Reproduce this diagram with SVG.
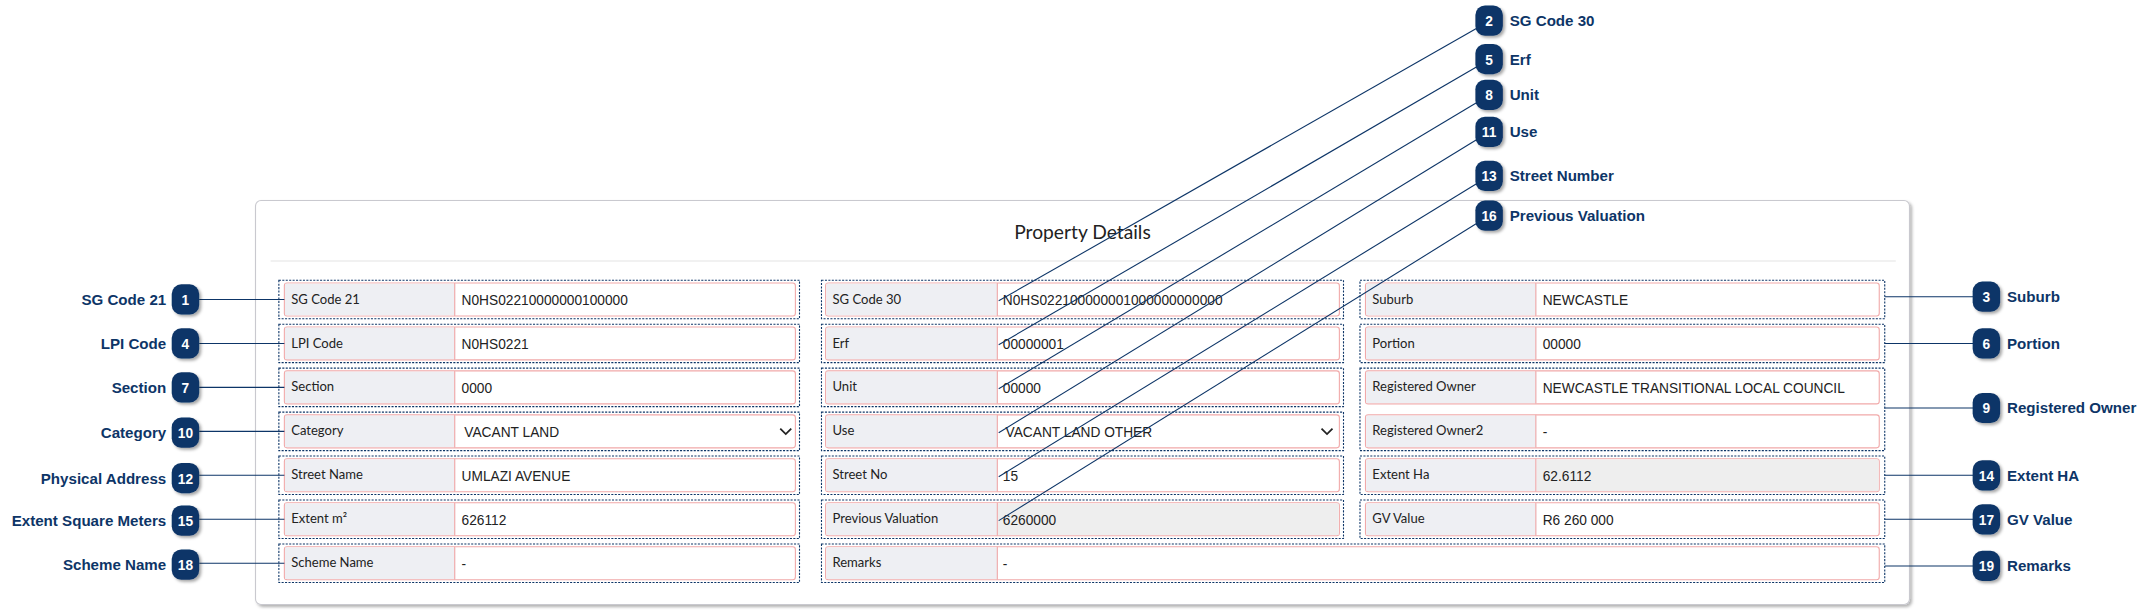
<svg xmlns="http://www.w3.org/2000/svg" width="2154" height="614" viewBox="0 0 2154 614">
<defs>
<style>
.dot{fill:none;stroke:#0d3567;stroke-width:0.8;stroke-dasharray:1.5 1}
.inp{fill:#fff;stroke:#f1a9a9;stroke-width:0.8}
.lab{fill:#eeeff3}
.sep{stroke:#f1a9a9;stroke-width:0.8}
.ro{fill:#eeeeee}
.t{font-family:Lato,"Open Sans",sans-serif;font-size:9.5px;fill:#222}
.v{font-family:"Liberation Sans",Arial,sans-serif;font-size:10px;fill:#222}
.cl{font-family:"Liberation Sans",Arial,sans-serif;font-size:11px;font-weight:bold;fill:#0d3567}
.bn{font-family:"Liberation Sans",Arial,sans-serif;font-size:10px;font-weight:bold;fill:#fff;text-anchor:middle}
.ln{stroke:#0d3567;stroke-width:0.8;fill:none}
</style>
<filter id="sh" x="-20%" y="-20%" width="150%" height="150%"><feDropShadow dx="1.5" dy="1.5" stdDeviation="1" flood-color="#000" flood-opacity="0.35"/></filter>
<filter id="ps" x="-5%" y="-5%" width="110%" height="110%"><feDropShadow dx="1.5" dy="1.5" stdDeviation="1.2" flood-color="#000" flood-opacity="0.3"/></filter>
<g id="badge"><rect x="-10" y="-11" width="20" height="22" rx="7" fill="#0d3567" filter="url(#sh)"/></g>
</defs>
<rect width="2154" height="614" fill="#fff"/>
<g transform="scale(1.37372)">
<g id="panel">
<rect x="186" y="146" width="1204" height="294" rx="4" fill="#fff" stroke="#c9c9cf" stroke-width="0.8" filter="url(#ps)"/>
<text x="788" y="174" font-family="Lato,'Open Sans',sans-serif" font-size="14" fill="#222" text-anchor="middle">Property Details</text>
<line x1="197" y1="190" x2="1380" y2="190" stroke="#ececec" stroke-width="1"/>
</g>
<g id="fields">
<!-- col1 -->
<g id="f-sgcode21"><rect class="dot" x="203" y="204" width="379" height="28"/><rect class="inp" x="207" y="206" width="372" height="24" rx="2"/><rect class="lab" x="207.5" y="206.5" width="124" height="23"/><line class="sep" x1="331" y1="206" x2="331" y2="230"/><text class="t" x="212" y="221">SG Code 21</text><text class="v" x="336" y="222">N0HS02210000000100000</text></g>
<g id="f-lpi"><rect class="dot" x="203" y="236" width="379" height="28"/><rect class="inp" x="207" y="238" width="372" height="24" rx="2"/><rect class="lab" x="207.5" y="238.5" width="124" height="23"/><line class="sep" x1="331" y1="238" x2="331" y2="262"/><text class="t" x="212" y="253">LPI Code</text><text class="v" x="336" y="254">N0HS0221</text></g>
<g id="f-section"><rect class="dot" x="203" y="268" width="379" height="28"/><rect class="inp" x="207" y="270" width="372" height="24" rx="2"/><rect class="lab" x="207.5" y="270.5" width="124" height="23"/><line class="sep" x1="331" y1="270" x2="331" y2="294"/><text class="t" x="212" y="285">Section</text><text class="v" x="336" y="286">0000</text></g>
<g id="f-category"><rect class="dot" x="203" y="300" width="379" height="28"/><rect class="inp" x="207" y="302" width="372" height="24" rx="2"/><rect class="lab" x="207.5" y="302.5" width="124" height="23"/><line class="sep" x1="331" y1="302" x2="331" y2="326"/><text class="t" x="212" y="317">Category</text><text class="v" x="338" y="318">VACANT LAND</text><path d="M568 312 l4 4 l4 -4" fill="none" stroke="#222" stroke-width="1.3"/></g>
<g id="f-streetname"><rect class="dot" x="203" y="332" width="379" height="28"/><rect class="inp" x="207" y="334" width="372" height="24" rx="2"/><rect class="lab" x="207.5" y="334.5" width="124" height="23"/><line class="sep" x1="331" y1="334" x2="331" y2="358"/><text class="t" x="212" y="349">Street Name</text><text class="v" x="336" y="350">UMLAZI AVENUE</text></g>
<g id="f-extentm2"><rect class="dot" x="203" y="364" width="379" height="28"/><rect class="inp" x="207" y="366" width="372" height="24" rx="2"/><rect class="lab" x="207.5" y="366.5" width="124" height="23"/><line class="sep" x1="331" y1="366" x2="331" y2="390"/><text class="t" x="212" y="381">Extent m²</text><text class="v" x="336" y="382">626112</text></g>
<g id="f-scheme"><rect class="dot" x="203" y="396" width="379" height="28"/><rect class="inp" x="207" y="398" width="372" height="24" rx="2"/><rect class="lab" x="207.5" y="398.5" width="124" height="23"/><line class="sep" x1="331" y1="398" x2="331" y2="422"/><text class="t" x="212" y="413">Scheme Name</text><text class="v" x="336" y="414">-</text></g>
<!-- col2 -->
<g id="f-sgcode30"><rect class="dot" x="598" y="204" width="380" height="28"/><rect class="inp" x="601" y="206" width="374" height="24" rx="2"/><rect class="lab" x="601.5" y="206.5" width="125" height="23"/><line class="sep" x1="726" y1="206" x2="726" y2="230"/><text class="t" x="606" y="221">SG Code 30</text><text class="v" x="730" y="222">N0HS022100000001000000000000</text></g>
<g id="f-erf"><rect class="dot" x="598" y="236" width="380" height="28"/><rect class="inp" x="601" y="238" width="374" height="24" rx="2"/><rect class="lab" x="601.5" y="238.5" width="125" height="23"/><line class="sep" x1="726" y1="238" x2="726" y2="262"/><text class="t" x="606" y="253">Erf</text><text class="v" x="730" y="254">00000001</text></g>
<g id="f-unit"><rect class="dot" x="598" y="268" width="380" height="28"/><rect class="inp" x="601" y="270" width="374" height="24" rx="2"/><rect class="lab" x="601.5" y="270.5" width="125" height="23"/><line class="sep" x1="726" y1="270" x2="726" y2="294"/><text class="t" x="606" y="285">Unit</text><text class="v" x="730" y="286">00000</text></g>
<g id="f-use"><rect class="dot" x="598" y="300" width="380" height="28"/><rect class="inp" x="601" y="302" width="374" height="24" rx="2"/><rect class="lab" x="601.5" y="302.5" width="125" height="23"/><line class="sep" x1="726" y1="302" x2="726" y2="326"/><text class="t" x="606" y="317">Use</text><text class="v" x="732" y="318">VACANT LAND OTHER</text><path d="M962 312 l4 4 l4 -4" fill="none" stroke="#222" stroke-width="1.3"/></g>
<g id="f-streetno"><rect class="dot" x="598" y="332" width="380" height="28"/><rect class="inp" x="601" y="334" width="374" height="24" rx="2"/><rect class="lab" x="601.5" y="334.5" width="125" height="23"/><line class="sep" x1="726" y1="334" x2="726" y2="358"/><text class="t" x="606" y="349">Street No</text><text class="v" x="730" y="350">15</text></g>
<g id="f-prevval"><rect class="dot" x="598" y="364" width="380" height="28"/><rect class="inp" x="601" y="366" width="374" height="24" rx="2"/><rect class="ro" x="726.5" y="366.5" width="248" height="23"/><rect class="lab" x="601.5" y="366.5" width="125" height="23"/><line class="sep" x1="726" y1="366" x2="726" y2="390"/><text class="t" x="606" y="381">Previous Valuation</text><text class="v" x="730" y="382">6260000</text></g>
<g id="f-remarks"><rect class="dot" x="598" y="396" width="774" height="28"/><rect class="inp" x="601" y="398" width="767" height="24" rx="2"/><rect class="lab" x="601.5" y="398.5" width="125" height="23"/><line class="sep" x1="726" y1="398" x2="726" y2="422"/><text class="t" x="606" y="413">Remarks</text><text class="v" x="730" y="414">-</text></g>
<!-- col3 -->
<g id="f-suburb"><rect class="dot" x="990" y="204" width="382" height="28"/><rect class="inp" x="994" y="206" width="374" height="24" rx="2"/><rect class="lab" x="994.5" y="206.5" width="124" height="23"/><line class="sep" x1="1118" y1="206" x2="1118" y2="230"/><text class="t" x="999" y="221">Suburb</text><text class="v" x="1123" y="222">NEWCASTLE</text></g>
<g id="f-portion"><rect class="dot" x="990" y="236" width="382" height="28"/><rect class="inp" x="994" y="238" width="374" height="24" rx="2"/><rect class="lab" x="994.5" y="238.5" width="124" height="23"/><line class="sep" x1="1118" y1="238" x2="1118" y2="262"/><text class="t" x="999" y="253">Portion</text><text class="v" x="1123" y="254">00000</text></g>
<g id="f-owner"><rect class="dot" x="990" y="268" width="382" height="60"/>
<rect class="inp" x="994" y="270" width="374" height="24" rx="2"/><rect class="lab" x="994.5" y="270.5" width="124" height="23"/><line class="sep" x1="1118" y1="270" x2="1118" y2="294"/><text class="t" x="999" y="285">Registered Owner</text><text class="v" x="1123" y="286">NEWCASTLE TRANSITIONAL LOCAL COUNCIL</text>
<rect class="inp" x="994" y="302" width="374" height="24" rx="2"/><rect class="lab" x="994.5" y="302.5" width="124" height="23"/><line class="sep" x1="1118" y1="302" x2="1118" y2="326"/><text class="t" x="999" y="317">Registered Owner2</text><text class="v" x="1123" y="318">-</text></g>
<g id="f-extentha"><rect class="dot" x="990" y="332" width="382" height="28"/><rect class="inp" x="994" y="334" width="374" height="24" rx="2"/><rect class="ro" x="1118.5" y="334.5" width="249" height="23"/><rect class="lab" x="994.5" y="334.5" width="124" height="23"/><line class="sep" x1="1118" y1="334" x2="1118" y2="358"/><text class="t" x="999" y="349">Extent Ha</text><text class="v" x="1123" y="350">62.6112</text></g>
<g id="f-gv"><rect class="dot" x="990" y="364" width="382" height="28"/><rect class="inp" x="994" y="366" width="374" height="24" rx="2"/><rect class="lab" x="994.5" y="366.5" width="124" height="23"/><line class="sep" x1="1118" y1="366" x2="1118" y2="390"/><text class="t" x="999" y="381">GV Value</text><text class="v" x="1123" y="382">R6 260 000</text></g>
</g>
<g id="connectors">
<line class="ln" x1="145" y1="218" x2="207" y2="218"/>
<line class="ln" x1="145" y1="250" x2="207" y2="250"/>
<line class="ln" x1="145" y1="282" x2="207" y2="282"/>
<line class="ln" x1="145" y1="314" x2="207" y2="314"/>
<line class="ln" x1="145" y1="346" x2="207" y2="346"/>
<line class="ln" x1="145" y1="378" x2="207" y2="378"/>
<line class="ln" x1="145" y1="410" x2="207" y2="410"/>
<line class="ln" x1="1372" y1="216" x2="1437" y2="216"/>
<line class="ln" x1="1372" y1="250" x2="1437" y2="250"/>
<line class="ln" x1="1372" y1="297" x2="1437" y2="297"/>
<line class="ln" x1="1372" y1="346" x2="1437" y2="346"/>
<line class="ln" x1="1372" y1="378" x2="1437" y2="378"/>
<line class="ln" x1="1372" y1="412" x2="1437" y2="412"/>
<line class="ln" x1="1076" y1="20" x2="727" y2="219"/>
<line class="ln" x1="1076" y1="48" x2="727" y2="251"/>
<line class="ln" x1="1076" y1="74" x2="727" y2="283"/>
<line class="ln" x1="1076" y1="101" x2="727" y2="315"/>
<line class="ln" x1="1076" y1="133" x2="727" y2="347"/>
<line class="ln" x1="1076" y1="162" x2="727" y2="379"/>
</g>
<g id="callouts">
<g id="c1"><use href="#badge" x="135" y="218"/><text class="bn" x="135" y="222">1</text><text class="cl" x="121" y="222" text-anchor="end">SG Code 21</text></g>
<g id="c4"><use href="#badge" x="135" y="250"/><text class="bn" x="135" y="254">4</text><text class="cl" x="121" y="254" text-anchor="end">LPI Code</text></g>
<g id="c7"><use href="#badge" x="135" y="282"/><text class="bn" x="135" y="286">7</text><text class="cl" x="121" y="286" text-anchor="end">Section</text></g>
<g id="c10"><use href="#badge" x="135" y="315"/><text class="bn" x="135" y="319">10</text><text class="cl" x="121" y="319" text-anchor="end">Category</text></g>
<g id="c12"><use href="#badge" x="135" y="348"/><text class="bn" x="135" y="352">12</text><text class="cl" x="121" y="352" text-anchor="end">Physical Address</text></g>
<g id="c15"><use href="#badge" x="135" y="379"/><text class="bn" x="135" y="383">15</text><text class="cl" x="121" y="383" text-anchor="end">Extent Square Meters</text></g>
<g id="c18"><use href="#badge" x="135" y="411"/><text class="bn" x="135" y="415">18</text><text class="cl" x="121" y="415" text-anchor="end">Scheme Name</text></g>
<g id="c3"><use href="#badge" x="1446" y="216"/><text class="bn" x="1446" y="220">3</text><text class="cl" x="1461" y="220">Suburb</text></g>
<g id="c6"><use href="#badge" x="1446" y="250"/><text class="bn" x="1446" y="254">6</text><text class="cl" x="1461" y="254">Portion</text></g>
<g id="c9"><use href="#badge" x="1446" y="297"/><text class="bn" x="1446" y="301">9</text><text class="cl" x="1461" y="301">Registered Owner</text></g>
<g id="c14"><use href="#badge" x="1446" y="346"/><text class="bn" x="1446" y="350">14</text><text class="cl" x="1461" y="350">Extent HA</text></g>
<g id="c17"><use href="#badge" x="1446" y="378"/><text class="bn" x="1446" y="382">17</text><text class="cl" x="1461" y="382">GV Value</text></g>
<g id="c19"><use href="#badge" x="1446" y="412"/><text class="bn" x="1446" y="416">19</text><text class="cl" x="1461" y="416">Remarks</text></g>
<g id="c2"><use href="#badge" x="1084" y="15"/><text class="bn" x="1084" y="19">2</text><text class="cl" x="1099" y="19">SG Code 30</text></g>
<g id="c5"><use href="#badge" x="1084" y="43"/><text class="bn" x="1084" y="47">5</text><text class="cl" x="1099" y="47">Erf</text></g>
<g id="c8"><use href="#badge" x="1084" y="69"/><text class="bn" x="1084" y="73">8</text><text class="cl" x="1099" y="73">Unit</text></g>
<g id="c11"><use href="#badge" x="1084" y="96"/><text class="bn" x="1084" y="100">11</text><text class="cl" x="1099" y="100">Use</text></g>
<g id="c13"><use href="#badge" x="1084" y="128"/><text class="bn" x="1084" y="132">13</text><text class="cl" x="1099" y="132">Street Number</text></g>
<g id="c16"><use href="#badge" x="1084" y="157"/><text class="bn" x="1084" y="161">16</text><text class="cl" x="1099" y="161">Previous Valuation</text></g>
</g>
</g>
</svg>
